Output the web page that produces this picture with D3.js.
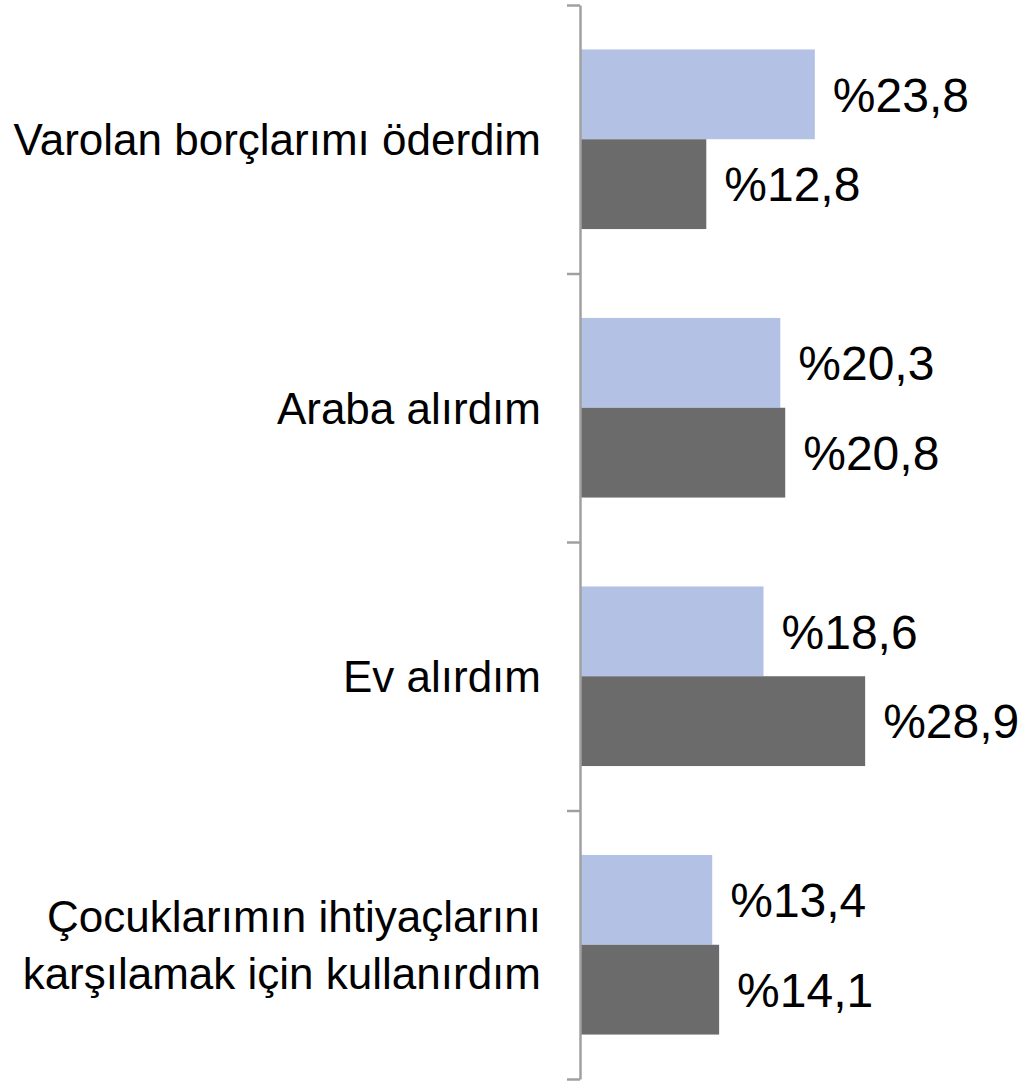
<!DOCTYPE html>
<html>
<head>
<meta charset="utf-8">
<script src="https://cdn.jsdelivr.net/npm/d3@7"></script>
<style>
  html, body { margin: 0; padding: 0; background: #fff; }
  svg { display: block; }
  text { font-family: "Liberation Sans", Arial, sans-serif; fill: #000; }
</style>
</head>
<body>
<svg id="chart" width="1023" height="1083"></svg>
<script>
// category labels (lines split where the original wraps)
var categories = [
  ['Varolan borçlarımı öderdim'],
  ['Araba alırdım'],
  ['Ev alırdım'],
  ['Çocuklarımın ihtiyaçlarını', 'karşılamak için kullanırdım']
];
var series = ['a', 'b'];
var valuesA = [23.8, 20.3, 18.6, 13.4];
var valuesB = [12.8, 20.8, 28.9, 14.1];
var colors = ['#b3c1e5', '#6b6b6b'];

var svg = d3.select('#chart');

var keys = categories.map((d, i) => 'c' + i);

var y = d3.scaleBand()
  .domain(keys)
  .range([5, 1079]);

var yInner = d3.scaleBand()
  .domain(series)
  .range([0, y.bandwidth()])
  .paddingOuter(0.495);

var x = d3.scaleLinear()
  .domain([0, 30])
  .range([580, 876]);

var data = [];
keys.forEach((k, i) => {
  data.push({ key: k, s: 'a', v: valuesA[i] });
  data.push({ key: k, s: 'b', v: valuesB[i] });
});

// bars
svg.append('g').selectAll('rect')
  .data(data)
  .enter().append('rect')
    .attr('x', x(0))
    .attr('y', d => y(d.key) + yInner(d.s))
    .attr('width', d => x(d.v) - x(0))
    .attr('height', yInner.bandwidth())
    .attr('fill', d => colors[series.indexOf(d.s)]);

// value labels
svg.append('g').selectAll('text')
  .data(data)
  .enter().append('text')
    .attr('x', d => x(d.v) + 18)
    .attr('y', d => y(d.key) + yInner(d.s) + yInner.bandwidth() / 2)
    .attr('dy', '0.36em')
    .style('font-size', '48px')
    .text(d => '%' + d3.format('.1f')(d.v).replace('.', ','));

// axis, ticks on band edges
var edges = d3.scaleLinear().domain([0, keys.length]).range([5, 1079]);
var axis = svg.append('g')
  .attr('transform', 'translate(580,0)')
  .call(d3.axisLeft(edges).tickValues(d3.range(keys.length + 1)).tickFormat('').tickSize(13).tickSizeOuter(0));
axis.selectAll('path, line')
  .attr('stroke', '#a0a0a0')
  .attr('stroke-width', 2.5);

// category labels
var labels = svg.append('g').selectAll('text')
  .data(categories)
  .enter().append('text')
    .attr('text-anchor', 'end')
    .style('font-size', '44px')
    .attr('y', (d, i) => y(keys[i]) + y.bandwidth() / 2);

labels.selectAll('tspan')
  .data(d => d.map((t, j) => ({ t: t, j: j, n: d.length })))
  .enter().append('tspan')
    .attr('x', 541)
    .attr('dy', d => d.j === 0 ? (0.36 - (d.n - 1) * 0.65) + 'em' : '1.3em')
    .text(d => d.t);
</script>
</body>
</html>
